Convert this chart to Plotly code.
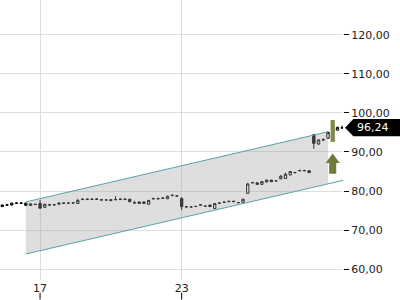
import plotly.graph_objects as go

opens  = [76.0,76.4,76.4,76.8,76.8,76.9,76.3,76.6,76.8,75.8,76.4,76.45,76.6,76.95,76.9,76.9,76.8,77.8,77.8,77.8,
          77.85,77.75,77.7,77.8,77.75,77.8,77.8,77.9,76.9,77.2,77.2,76.6,77.95,77.95,78.1,78.0,78.8,78.75,78.1,76.0,
          75.9,76.0,76.35,76.15,76.4,75.5,76.85,77.05,77.25,77.25,77.05,77.1,79.4,82.05,82.1,81.7,82.3,82.8,82.6,83.1,
          83.2,84.1,84.7,85.15,85.15,85.2,94.4,92.05,93.1,93.5,95.0,95.6,96.1]
highs  = [76.5,76.6,77.0,77.1,77.1,77.0,76.8,76.65,77.7,76.7,76.6,76.65,77.0,77.0,76.95,76.95,78.0,78.1,78.1,78.1,
          78.1,77.8,77.75,77.85,78.7,78.1,78.1,78.0,77.5,77.25,77.25,77.7,78.3,78.3,78.4,78.8,79.1,78.8,78.4,76.05,
          75.95,76.05,76.6,76.2,76.45,76.9,77.0,77.3,77.5,77.5,77.1,78.0,82.1,82.3,82.15,82.5,82.9,82.85,82.65,84.1,
          84.7,85.1,84.9,85.45,85.45,85.25,94.6,93.2,93.5,95.2,95.9,96.5,96.75]
lows   = [75.9,76.2,76.3,76.8,76.8,76.2,76.2,76.5,75.4,75.7,76.2,76.25,76.6,76.85,76.85,76.85,76.7,77.8,77.8,77.8,
          77.85,77.7,77.65,77.5,77.75,77.8,77.8,77.2,76.85,76.75,76.75,76.5,77.95,77.95,78.1,77.95,78.8,78.7,75.1,75.6,
          75.85,75.95,76.35,76.1,75.95,75.4,76.7,77.05,77.25,77.25,77.0,77.05,79.3,82.05,81.65,81.65,82.25,82.35,82.55,83.05,
          83.15,84.05,84.5,85.15,85.15,84.65,90.8,91.8,92.8,93.4,94.9,95.5,96.0]
closes = [76.4,76.45,76.9,76.9,76.9,76.3,76.7,76.55,75.6,76.6,76.45,76.5,76.9,76.85,76.9,76.95,77.6,77.9,77.9,77.9,
          77.95,77.7,77.7,77.55,77.8,77.9,77.9,77.25,76.95,76.8,76.8,77.6,78.05,78.05,78.2,78.65,78.9,78.7,76.0,75.95,
          75.9,76.05,76.45,76.1,76.0,76.8,76.9,77.15,77.35,77.35,77.0,77.9,81.8,82.15,81.7,82.4,82.8,82.4,82.6,83.8,
          84.3,85.0,84.75,85.25,85.25,84.7,92.2,93.1,93.15,95.05,95.8,96.3,96.24]
bar_index = list(range(len(closes)))

x_tick_vals = [8, 38]
x_tick_text = ["17", "23"]
y_tick_vals = [60, 70, 80, 90, 100, 110, 120]

# trend channel
channel_start = 5.0
upper_end_x = 69.0
lower_end_x = 72.4
upper_start_val = 77.2
lower_start_val = 63.85
channel_slope = 0.281

last_price = closes[-1]

upper_end_val = upper_start_val + (upper_end_x - channel_start) * channel_slope
lower_end_val = lower_start_val + (lower_end_x - channel_start) * channel_slope
lower_at_upper_end = lower_start_val + (upper_end_x - channel_start) * channel_slope

fig = go.Figure()

fig.add_trace(go.Scatter(
    x=[channel_start, upper_end_x, upper_end_x, channel_start, channel_start],
    y=[upper_start_val, upper_end_val, lower_at_upper_end, lower_start_val, upper_start_val],
    fill="toself", fillcolor="rgba(160,160,160,0.35)", line=dict(width=0),
    mode="lines", hoverinfo="skip", showlegend=False))
fig.add_trace(go.Scatter(x=[channel_start, upper_end_x], y=[upper_start_val, upper_end_val],
    mode="lines", line=dict(color="#5aa0a8", width=1), showlegend=False))
fig.add_trace(go.Scatter(x=[channel_start, lower_end_x], y=[lower_start_val, lower_end_val],
    mode="lines", line=dict(color="#5aa0a8", width=1), showlegend=False))

fig.add_trace(go.Candlestick(
    x=bar_index, open=opens, high=highs, low=lows, close=closes,
    increasing=dict(fillcolor="white", line=dict(color="black", width=1)),
    decreasing=dict(fillcolor="black", line=dict(color="black", width=1)),
    whiskerwidth=0, showlegend=False))

# green marker bar and arrow near last bars
green = "#6e7d3c"
mark_x = 70
fig.add_shape(type="rect", x0=mark_x - 0.45, x1=mark_x + 0.45, y0=92.6, y1=98.2,
              fillcolor="#7b8b48", line=dict(width=0), layer="above")
arrow_tip, arrow_head_base, arrow_bottom = 89.6, 87.2, 84.4
fig.add_shape(type="path", layer="above", fillcolor=green, line=dict(width=0),
    path=(f"M {mark_x} {arrow_tip} L {mark_x+1.5} {arrow_head_base} L {mark_x+0.75} {arrow_head_base} "
          f"L {mark_x+0.75} {arrow_bottom} L {mark_x-0.75} {arrow_bottom} L {mark_x-0.75} {arrow_head_base} "
          f"L {mark_x-1.5} {arrow_head_base} Z"))

# last price label
h = 2.2
fig.add_shape(type="path", xref="paper", yref="y", fillcolor="black", line=dict(width=0), layer="above",
    path=f"M 1.006 {last_price} L 1.03 {last_price+h} L 1.2 {last_price+h} L 1.2 {last_price-h} L 1.03 {last_price-h} Z")
fig.add_annotation(x=1.035, y=last_price, xref="paper", yref="y", text=f"{last_price:.2f}".replace(".", ","),
    showarrow=False, xanchor="left", yanchor="middle", font=dict(color="white", size=11, family="DejaVu Sans"))

# x tick marks below labels
for tv in x_tick_vals:
    fig.add_shape(type="line", xref="x", yref="paper", x0=tv, x1=tv, y0=-0.045, y1=-0.07,
                  line=dict(color="black", width=1))

fig.update_layout(
    width=400, height=300, margin=dict(l=0, r=57, t=0, b=20),
    paper_bgcolor="white", plot_bgcolor="white",
    separators=",.", showlegend=False,
    font=dict(family="DejaVu Sans", size=11, color="#222"),
    xaxis=dict(range=[-0.487, 72.18], tickvals=x_tick_vals, ticktext=x_tick_text, ticks="",
               showgrid=True, gridcolor="#dddddd", gridwidth=1, zeroline=False, showline=False,
               rangeslider=dict(visible=False), fixedrange=True),
    yaxis=dict(range=[57.18, 128.97], side="right", tickvals=y_tick_vals, tickformat=".2f",
               ticks="outside", ticklen=5, tickcolor="black", showgrid=True, gridcolor="#dddddd",
               zeroline=False, showline=False),
)

fig.write_html("out.html")
